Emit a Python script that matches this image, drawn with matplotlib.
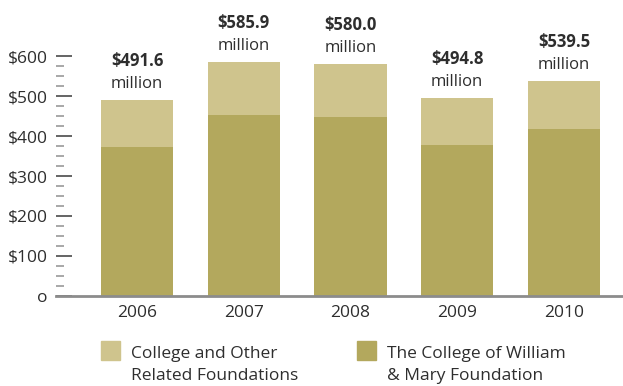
import matplotlib
matplotlib.use("Agg")
import matplotlib.pyplot as plt
from matplotlib.ticker import FixedLocator
from matplotlib.patches import Rectangle

years = ["2006", "2007", "2008", "2009", "2010"]
wm_foundation = [374, 454, 449, 379, 419]          # The College of William & Mary Foundation
totals = [491.6, 585.9, 580.0, 494.8, 539.5]        # total endowment
other_foundations = [t - w for t, w in zip(totals, wm_foundation)]
total_labels = ["$491.6", "$585.9", "$580.0", "$494.8", "$539.5"]
ytick_vals = [0, 100, 200, 300, 400, 500, 600]
ytick_labels = ["o", "$100", "$200", "$300", "$400", "$500", "$600"]
legend_labels = ["College and Other\nRelated Foundations", "The College of William\n& Mary Foundation"]

LIGHT = "#cfc48d"
DARK = "#b3a85d"
TXT = "#2e2e2e"
plt.rcParams['font.family'] = ['Open Sans', 'DejaVu Sans']

W, H = 623, 386
fig = plt.figure(figsize=(W / 100, H / 100), dpi=100)
ax_left, ax_right = 56, 623
y0_px = 295.7
px_per_unit = 0.3987
ymax = 640
ax = fig.add_axes([ax_left / W, (H - y0_px) / H, (ax_right - ax_left) / W, ymax * px_per_unit / H])

x = list(range(len(years)))
bw = 0.675
ax.bar(x, wm_foundation, width=bw, color=DARK, zorder=2)
ax.bar(x, other_foundations, bottom=wm_foundation, width=bw, color=LIGHT, zorder=2)

for xi, t, lab in zip(x, totals, total_labels):
    ax.annotate(lab, (xi, t), xytext=(0, 39), textcoords="offset pixels",
                ha="center", va="center", fontsize=12, fontweight="bold", color=TXT,
                annotation_clip=False)
    ax.annotate("million", (xi, t), xytext=(0, 16), textcoords="offset pixels",
                ha="center", va="center", fontsize=12, color=TXT, annotation_clip=False)

ax.set_xlim((ax_left - 137) / 106.75, 4 + (ax_right - 564) / 106.75)
ax.set_ylim(0, ymax)

for s in ["top", "right", "left"]:
    ax.spines[s].set_visible(False)
ax.spines["bottom"].set_color("#8c8c8c")
ax.spines["bottom"].set_linewidth(2)
ax.spines["bottom"].set_zorder(3)

ax.set_xticks(x)
ax.set_xticklabels(years, fontsize=12.5, color=TXT)
ax.tick_params(axis="x", length=0, pad=7)

ax.yaxis.set_major_locator(FixedLocator(ytick_vals))
ax.set_yticklabels(ytick_labels, fontsize=12.5, color=TXT)
ax.yaxis.set_minor_locator(FixedLocator([v for v in range(25, 600, 25) if v % 100 != 0]))
ax.tick_params(axis="y", which="major", direction="in", length=11.3, width=1.2,
               color="#4a4a4a", pad=6)
ax.tick_params(axis="y", which="minor", direction="in", length=5.5, width=1.2,
               color="#9a9a9a")

# legend
cols = [LIGHT, DARK]
sq_x = [101, 357]
for c, sx, lab in zip(cols, sq_x, legend_labels):
    fig.patches.append(Rectangle((sx / W, (H - 360) / H), 19 / W, 19 / H,
                                 transform=fig.transFigure, color=c, figure=fig))
    fig.text((sx + 30) / W, (H - 346) / H, lab, ha="left", va="top",
             fontsize=12.5, color=TXT, linespacing=1.52)

fig.savefig("out.png", dpi=100)
